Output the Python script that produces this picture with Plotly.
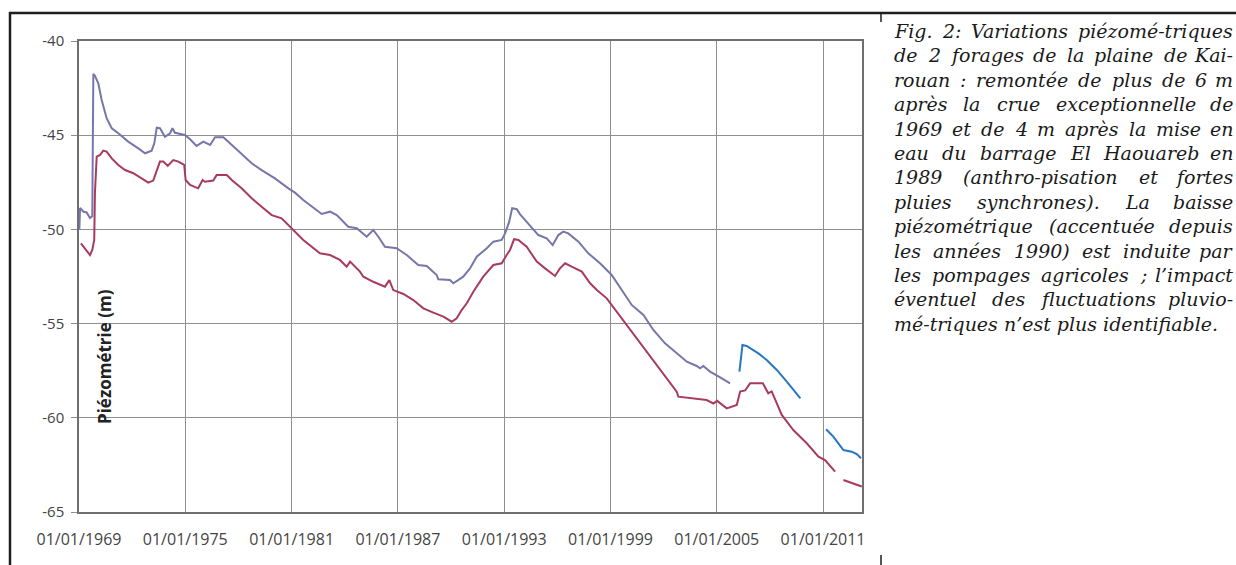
import datetime as dt
import plotly.graph_objects as go

# ---------------- data (decimal year, piezometric level in m) ----------------
well_a_years = [1969.02, 1969.06, 1969.24, 1969.43, 1969.62, 1969.75, 1969.81, 1969.90,
                1970.09, 1970.28, 1970.56, 1970.85, 1971.22, 1971.78, 1972.35, 1972.73,
                1973.10, 1973.25, 1973.39, 1973.57, 1973.85, 1974.14, 1974.27, 1974.42,
                1974.98, 1975.27, 1975.64, 1976.02, 1976.40, 1976.68, 1977.15, 1977.62,
                1978.18, 1978.75, 1979.31, 1980.06, 1980.82, 1981.19, 1981.66, 1982.70,
                1983.17, 1983.55, 1984.20, 1984.68, 1985.24, 1985.61, 1985.90, 1986.27,
                1986.93, 1987.50, 1988.15, 1988.63, 1989.19, 1989.28, 1989.94, 1990.13,
                1990.69, 1991.07, 1991.45, 1992.02, 1992.39, 1992.86, 1993.05, 1993.28,
                1993.45, 1993.71, 1993.90, 1994.46, 1994.93, 1995.40, 1995.74, 1996.06,
                1996.34, 1996.62, 1997.19, 1997.75, 1998.41, 1999.07, 1999.64, 2000.20,
                2000.86, 2001.42, 2002.08, 2002.74, 2003.31, 2003.87, 2004.06, 2004.24,
                2004.62, 2005.19, 2005.75]
well_a_levels = [-50.0, -48.86, -49.05, -49.1, -49.4, -49.3, -41.75, -41.85,
                 -42.25, -43.13, -44.1, -44.63, -44.9, -45.34, -45.7, -45.96,
                 -45.82, -45.43, -44.6, -44.63, -45.08, -44.9, -44.63, -44.87,
                 -44.99, -45.22, -45.57, -45.34, -45.52, -45.11, -45.11, -45.52,
                 -45.96, -46.49, -46.85, -47.29, -47.82, -48.05, -48.44, -49.18,
                 -49.06, -49.24, -49.86, -49.94, -50.39, -50.03, -50.39, -50.92,
                 -51.0, -51.36, -51.89, -51.94, -52.42, -52.65, -52.69, -52.86,
                 -52.51, -52.07, -51.45, -51.0, -50.65, -50.56, -50.21, -49.6,
                 -48.88, -48.93, -49.2, -49.77, -50.3, -50.47, -50.83, -50.3,
                 -50.12, -50.21, -50.65, -51.27, -51.8, -52.42, -53.22, -54.01,
                 -54.54, -55.34, -56.05, -56.58, -57.02, -57.25, -57.37, -57.25,
                 -57.55, -57.85, -58.17]

well_a2_years = [2006.28, 2006.45, 2006.69, 2007.35, 2007.82, 2008.39, 2008.95, 2009.72,
                 None,
                 2011.17, 2011.58, 2012.15, 2012.62, 2012.90, 2013.14]
well_a2_levels = [-57.55, -56.14, -56.19, -56.58, -56.93, -57.46, -58.08, -58.97,
                  None,
                  -60.61, -61.0, -61.71, -61.8, -61.92, -62.15]

well_b_years = [1969.11, 1969.34, 1969.62, 1969.75, 1969.86, 1969.90, 1969.94, 1970.00,
                1970.19, 1970.37, 1970.56, 1970.85, 1971.22, 1971.60, 1972.07, 1972.54,
                1972.91, 1973.19, 1973.39, 1973.57, 1973.76, 1974.01, 1974.32, 1974.61,
                1974.94, 1975.02, 1975.27, 1975.73, 1975.98, 1976.11, 1976.58, 1976.77,
                1977.34, 1977.62, 1978.18, 1978.75, 1979.31, 1979.88, 1980.44, 1980.91,
                1981.66, 1982.60, 1983.17, 1983.73, 1984.11, 1984.30, 1984.86, 1985.05,
                1985.61, 1986.27, 1986.52, 1986.74, 1987.31, 1987.87, 1988.44, 1989.00,
                1989.57, 1990.04, 1990.32, 1990.60, 1990.89, 1991.26, 1991.82, 1992.39,
                1992.86, 1993.14, 1993.33, 1993.56, 1993.80, 1994.27, 1994.84, 1995.31,
                1995.87, 1996.15, 1996.44, 1996.81, 1997.38, 1997.85, 1998.23, 1998.79,
                1999.35, 1999.92, 2000.48, 2001.14, 2001.80, 2002.36, 2002.74, 2002.83,
                2003.11, 2003.87, 2004.43, 2004.81, 2005.02, 2005.56, 2006.13, 2006.32,
                2006.60, 2006.88, 2007.60, 2007.91, 2008.10, 2008.67, 2009.32, 2010.08,
                2010.74, 2011.11, 2011.68,
                None,
                2012.15, 2013.18]
well_b_levels = [-50.74, -51.0, -51.36, -51.09, -50.56, -48.08, -46.85, -46.14,
                 -46.05, -45.82, -45.87, -46.23, -46.58, -46.85, -47.02, -47.29,
                 -47.52, -47.41, -46.85, -46.4, -46.4, -46.63, -46.32, -46.4,
                 -46.58, -47.38, -47.64, -47.82, -47.38, -47.47, -47.41, -47.11,
                 -47.11, -47.38, -47.82, -48.35, -48.8, -49.24, -49.41, -49.85,
                 -50.56, -51.27, -51.36, -51.62, -51.98, -51.71, -52.24, -52.51,
                 -52.78, -53.04, -52.69, -53.22, -53.43, -53.75, -54.19, -54.42,
                 -54.63, -54.9, -54.72, -54.28, -53.92, -53.31, -52.51, -51.89,
                 -51.8, -51.36, -51.09, -50.52, -50.56, -50.92, -51.71, -52.07,
                 -52.47, -52.07, -51.8, -51.98, -52.24, -52.86, -53.22, -53.66,
                 -54.37, -55.07, -55.78, -56.58, -57.46, -58.17, -58.61, -58.88,
                 -58.91, -59.02, -59.06, -59.24, -59.1, -59.5, -59.32, -58.61,
                 -58.55, -58.17, -58.17, -58.7, -58.6, -59.85, -60.65, -61.35,
                 -62.06, -62.24, -62.86,
                 None,
                 -63.3, -63.65]

x_tick_dates = ["1969-01-01", "1975-01-01", "1981-01-01", "1987-01-01",
                "1993-01-01", "1999-01-01", "2005-01-01", "2011-01-01"]
x_tick_labels = ["01/01/1969", "01/01/1975", "01/01/1981", "01/01/1987",
                 "01/01/1993", "01/01/1999", "01/01/2005", "01/01/2011"]
y_tick_values = [-65, -60, -55, -50, -45, -40]
y_tick_labels = ["-65", "-60", "-55", "-50", "-45", "-40"]

y_title = "Piézométrie (m)"
caption_lines = [
    "Fig. 2: Variations piézomé-triques",
    "de 2 forages de la plaine de Kai-",
    "rouan : remontée de plus de 6 m",
    "après la crue exceptionnelle de",
    "1969 et de 4 m après la mise en",
    "eau du barrage El Haouareb en",
    "1989 (anthro-pisation et fortes",
    "pluies synchrones). La baisse",
    "piézométrique (accentuée depuis",
    "les années 1990) est induite par",
    "les pompages agricoles ; l’impact",
    "éventuel des fluctuations pluvio-",
    "mé-triques n’est plus identifiable.",
]


def to_date(y):
    if y is None:
        return None
    yr = int(y)
    start = dt.datetime(yr, 1, 1)
    end = dt.datetime(yr + 1, 1, 1)
    return start + (end - start) * (y - yr)


# approximate advance widths (em) of DejaVu Serif, used only to justify caption lines
_CW = {"a": .596, "b": .640, "c": .560, "d": .640, "e": .592, "f": .370, "g": .640,
       "h": .644, "i": .320, "j": .310, "k": .606, "l": .320, "m": .948, "n": .644,
       "o": .602, "p": .640, "q": .640, "r": .478, "s": .513, "t": .402, "u": .644,
       "v": .565, "w": .856, "x": .564, "y": .565, "z": .523, "é": .592, "è": .592,
       "F": .683, "V": .722, "K": .712, "L": .649, "E": .730, "H": .837,
       ":": .337, ".": .318, "-": .338, "(": .390, ")": .390, ";": .337, "’": .318}


def word_width(word, size):
    return sum(_CW.get(c, .636) for c in word) * size


# ---------------- figure ----------------
W, H = 1236, 565
L, R, T, B = 79, 862, 41, 512

fig = go.Figure()
fig.add_trace(go.Scatter(x=[to_date(v) for v in well_a_years], y=well_a_levels,
                         mode="lines", line=dict(color="#7676aa", width=2),
                         showlegend=False))
fig.add_trace(go.Scatter(x=[to_date(v) for v in well_b_years], y=well_b_levels,
                         mode="lines", line=dict(color="#a83a62", width=2),
                         connectgaps=False, showlegend=False))
fig.add_trace(go.Scatter(x=[to_date(v) for v in well_a2_years], y=well_a2_levels,
                         mode="lines", line=dict(color="#2677c2", width=2),
                         connectgaps=False, showlegend=False))

tick_font = dict(family="Open Sans, Liberation Sans, sans-serif", size=16, color="#444444")

fig.update_xaxes(
    type="date",
    range=[dt.datetime(1969, 1, 1), dt.datetime(2013, 3, 14)],
    tickvals=x_tick_dates, ticktext=x_tick_labels,
    showgrid=True, gridcolor="#8f8f8f", gridwidth=1.3,
    showline=True, linecolor="#6e6e6e", linewidth=1.5, mirror=True,
    ticks="", ticklabelstandoff=12,
    tickfont=tick_font, zeroline=False,
)
fig.update_yaxes(
    range=[-65, -40],
    tickvals=y_tick_values, ticktext=y_tick_labels,
    showgrid=True, gridcolor="#8f8f8f", gridwidth=1.3,
    showline=True, linecolor="#6e6e6e", linewidth=1.5, mirror=True,
    ticks="outside", ticklen=6, tickcolor="#8f8f8f", tickwidth=1.3,
    ticklabelstandoff=4,
    tickfont=dict(tick_font, size=15), zeroline=False,
)


def px_x(p):
    return (p - L) / (R - L)


def px_y(p):
    return (B - p) / (B - T)


annotations = [
    dict(text="<b>" + y_title + "</b>", x=px_x(104), y=px_y(357), xref="paper", yref="paper",
         showarrow=False, textangle=-90, xanchor="center", yanchor="middle",
         font=dict(family="Open Sans, Liberation Sans, sans-serif", size=17, color="#222222"))
]

cap_size = 19
cap_font = dict(family="DejaVu Serif, serif", size=cap_size, color="#1a1a1a")
cap_left, cap_right = 893, 1234
line_y0 = 31
line_step = 24.4
for i, txt in enumerate(caption_lines):
    ypos = px_y(line_y0 + i * line_step)
    words = txt.split(" ")
    if i == len(caption_lines) - 1 or len(words) < 2:
        annotations.append(dict(
            text="<i>" + txt + "</i>", x=px_x(cap_left), y=ypos,
            xref="paper", yref="paper", showarrow=False, xanchor="left", yanchor="middle",
            borderpad=0, font=cap_font))
        continue
    widths = [word_width(w, cap_size) for w in words]
    gap = (cap_right - cap_left - sum(widths)) / (len(words) - 1)
    xcur = cap_left
    for j, (w, ww) in enumerate(zip(words, widths)):
        if j == len(words) - 1:
            annotations.append(dict(
                text="<i>" + w + "</i>", x=px_x(cap_right), y=ypos,
                xref="paper", yref="paper", showarrow=False, xanchor="right",
                yanchor="middle", borderpad=0, font=cap_font))
        else:
            annotations.append(dict(
                text="<i>" + w + "</i>", x=px_x(xcur), y=ypos,
                xref="paper", yref="paper", showarrow=False, xanchor="left",
                yanchor="middle", borderpad=0, font=cap_font))
        xcur += ww + gap

frame = dict(color="#1e1e1e", width=2.5)
shapes = [
    dict(type="line", xref="paper", yref="paper", x0=px_x(9), x1=px_x(1240),
         y0=px_y(13), y1=px_y(13), line=frame),
    dict(type="line", xref="paper", yref="paper", x0=px_x(10), x1=px_x(10),
         y0=px_y(12), y1=px_y(566), line=frame),
    dict(type="line", xref="paper", yref="paper", x0=px_x(881), x1=px_x(881),
         y0=px_y(13), y1=px_y(22), line=dict(color="#1e1e1e", width=1.5)),
    dict(type="line", xref="paper", yref="paper", x0=px_x(881), x1=px_x(881),
         y0=px_y(555), y1=px_y(566), line=dict(color="#1e1e1e", width=1.5)),
]

fig.update_layout(
    width=W, height=H,
    margin=dict(l=L, r=W - R, t=T, b=H - B, pad=0),
    paper_bgcolor="white", plot_bgcolor="white",
    annotations=annotations, shapes=shapes,
    showlegend=False,
)

fig.write_html("out.html", config={"displayModeBar": False},
               post_script="document.body.style.margin='0';document.body.style.overflow='hidden';")
